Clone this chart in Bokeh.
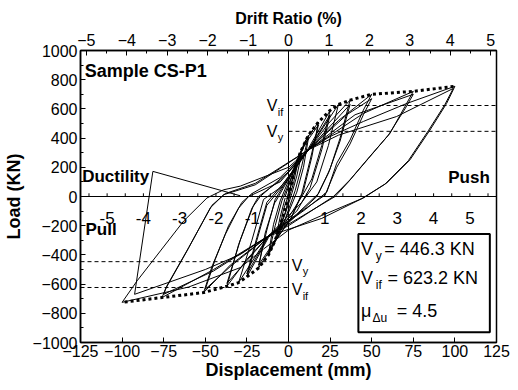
from bokeh.plotting import figure
from bokeh.models import (Range1d, LinearAxis, Span, Label, BoxAnnotation,
                          SingleIntervalTicker, ColumnDataSource)
from bokeh.embed import file_html
from bokeh.resources import INLINE
from bokeh.core.properties import value

FONT = "Liberation Sans"

# ---------------- data ----------------
V_y = 446.3          # KN
V_if = 623.2         # KN
mu_du = 4.5

inner_drift_labels = [-5, -4, -3, -2, -1, 1, 2, 3, 4, 5]
inner_drift_ticks = [-5.5, -5, -4.5, -4, -3.5, -3, -2.5, -2, -1.5, -1, -0.5,
                     0.5, 1, 1.5, 2, 2.5, 3, 3.5, 4, 4.5, 5, 5.5]

# envelope (dotted bold)
env_pos_d = [0, 3, 7, 12, 18, 25, 30, 37, 50, 75, 100]
env_pos_f = [0, 150, 300, 420, 510, 590, 630, 660, 700, 720, 755]
env_neg_d = [0, -5, -8, -12, -18, -25, -30, -37, -51, -76, -100]
env_neg_f = [0, -200, -300, -400, -490, -550, -590, -615, -658, -692, -725]

# hysteresis cycles (displacement mm, load KN)
c01_d = [0, 2, 5, 3, 0, -2, -5, -3, 0]
c01_f = [0, 110, 200, 90, -20, -110, -200, -90, 10]
c02_d = [0, 4, 8, 5, 2, -2, -8, -5, -2]
c02_f = [10, 180, 300, 140, 20, -120, -300, -140, -10]
c03_d = [-2, 3, 8, 12, 8, 4, 0, -4, -12, -8, -4]
c03_f = [0, 170, 320, 420, 210, 40, -90, -220, -400, -200, -30]
c04_d = [-4, 2, 7, 12, 9, 5, 0, -5, -12, -9, -5]
c04_f = [-30, 140, 300, 400, 200, 30, -110, -230, -390, -190, -30]
c05_d = [-5, 3, 10, 18, 14, 9, 2, -7, -18, -14, -8]
c05_f = [-30, 190, 380, 510, 270, 40, -140, -290, -490, -250, -30]
c06_d = [-8, 2, 10, 18, 13, 8, 1, -8, -18, -13, -8]
c06_f = [-40, 160, 360, 490, 250, 20, -160, -300, -470, -230, -20]
c07_d = [-8, 0, 12, 25, 20, 14, 8, -2, -12, -25, -19, -13]
c07_f = [-20, 130, 330, 590, 350, 120, 0, -180, -280, -550, -300, -60]
c08_d = [-13, 0, 12, 25, 20, 13, 5, -12, -25, -19, -13]
c08_f = [-60, 120, 320, 560, 320, 60, -100, -270, -530, -280, -40]
c09_d = [-13, -3, 12, 30, 24, 17, 8, -12, -30, -22, -15]
c09_f = [-40, 90, 320, 630, 350, 100, -40, -270, -590, -300, -20]
c10_d = [-15, -5, 12, 24, 37, 31, 25, 18, 5, -12, -25, -37, -30, -22, -17]
c10_f = [-20, 60, 320, 500, 660, 400, 190, 20, -120, -270, -430, -615, -330, -80, 0]
c11_d = [-17, 0, 12, 37, 31, 24, 17, 0, -12, -37, -29, -21, -18]
c11_f = [0, 170, 320, 630, 380, 160, 0, -180, -270, -595, -300, -60, 0]
c12_d = [-18, -5, 12, 30, 50, 45, 37, 29, 23, 10, -12, -35, -51, -46, -38, -30, -24]
c12_f = [0, 110, 320, 520, 700, 592, 387, 228, 30, -90, -270, -470, -658, -480, -260, -80, 0]
c13_d = [-24, -5, 12, 35, 50, 45, 37, 29, 22, 8, -12, -35, -50, -44, -36, -28, -22]
c13_f = [0, 100, 320, 560, 670, 560, 360, 200, 10, -100, -270, -480, -635, -430, -200, -40, 20]
c14_d = [-22, -5, 12, 45, 75, 70, 61, 49, 37, 27, 0, -12, -45, -76, -74, -61, -47, -39]
c14_f = [20, 130, 320, 569, 720, 617, 433, 276, 115, 0, -200, -270, -500, -692, -635, -373, -78, 12]
c15_d = [-39, -20, 12, 40, 75, 70, 60, 48, 36, 28, 0, -12, -45, -75, -73, -60, -46, -38]
c15_f = [12, 80, 320, 560, 700, 600, 420, 260, 100, 0, -190, -270, -510, -670, -610, -350, -60, 20]
c16_d = [-38, -20, 12, 25, 45, 71, 100, 95, 85, 73, 59, 45, 20, 0, -15, -29, -60, -100,
         -91, -77, -63, -49, -39, -29]
c16_f = [20, 90, 320, 411, 514, 637, 755, 637, 455, 251, 92, -10, -130, -230, -360, -487, -620, -725,
         -578, -373, -168, -10, 46, 71]
c17_d = [-29, 0, 12, 30, 65, 99, 94, 84, 72, 58, 44, 20, -12, -29, -50, -92.5, -81.5, -29]
c17_f = [71, 200, 320, 420, 548, 740, 630, 450, 245, 85, -15, -150, -270, -397, -500, -670, 172, 5]

cycles_d = [c01_d, c02_d, c03_d, c04_d, c05_d, c06_d, c07_d, c08_d, c09_d,
            c10_d, c11_d, c12_d, c13_d, c14_d, c15_d, c16_d, c17_d]
cycles_f = [c01_f, c02_f, c03_f, c04_f, c05_f, c06_f, c07_f, c08_f, c09_f,
            c10_f, c11_f, c12_f, c13_f, c14_f, c15_f, c16_f, c17_f]

# ---------------- figure ----------------
p = figure(width=510, height=382, x_range=Range1d(-125, 125), y_range=Range1d(-1000, 1000),
           output_backend="svg", toolbar_location=None,
           min_border_left=73, min_border_right=14, min_border_top=50, min_border_bottom=40)
p.extra_x_ranges = {"drift": Range1d(-125 / 24.3, 125 / 24.3),
                    "inner": Range1d(-125 / 21.8, 125 / 21.8)}
p.grid.visible = False
p.outline_line_color = "black"
p.outline_line_width = 1.5
p.background_fill_color = "white"
p.border_fill_color = "white"


def style_axis(ax, label_size="18px"):
    ax.axis_line_color = "black"
    ax.axis_line_width = 1.5
    ax.major_tick_in = 5
    ax.major_tick_out = 0
    ax.minor_tick_in = 3
    ax.minor_tick_out = 0
    ax.major_tick_line_color = "black"
    ax.minor_tick_line_color = "black"
    ax.major_label_text_font = FONT
    ax.major_label_text_font_size = "16px"
    ax.major_label_text_color = "black"
    ax.axis_label_text_font = FONT
    ax.axis_label_text_font_style = "bold"
    ax.axis_label_text_font_size = label_size
    ax.axis_label_text_color = "black"
    ax.major_label_standoff = 3
    ax.axis_label_standoff = 3


xb = p.xaxis[0]
xb.ticker = SingleIntervalTicker(interval=25, num_minor_ticks=0)
xb.axis_label = "Displacement (mm)"
style_axis(xb)
xb.major_label_standoff = 2
xb.axis_label_standoff = 0

yl = p.yaxis[0]
yl.ticker = SingleIntervalTicker(interval=200, num_minor_ticks=2)
yl.axis_label = "Load (KN)"
style_axis(yl)
yl.axis_label_standoff = 6

xt = LinearAxis(x_range_name="drift", ticker=SingleIntervalTicker(interval=1, num_minor_ticks=2),
                axis_label="Drift Ratio (%)")
style_axis(xt, "16px")
xt.major_label_standoff = 5
xt.axis_label_standoff = 4
p.add_layout(xt, "above")

# zero lines
p.add_layout(Span(location=0, dimension="width", line_color="black", line_width=1))
p.add_layout(Span(location=0, dimension="height", line_color="black", line_width=1))

# inner drift scale on the zero line
p.segment(x0=inner_drift_ticks, x1=inner_drift_ticks, y0=0, y1=22, x_range_name="inner",
          line_color="black", line_width=1)
src_in = ColumnDataSource(dict(x=inner_drift_labels, y=[-147] * len(inner_drift_labels),
                               t=[str(v) for v in inner_drift_labels]))
p.text(x="x", y="y", text="t", source=src_in, x_range_name="inner", text_font=value(FONT),
       text_font_size="17px", text_align="center", text_baseline="middle", text_color="black")

# dashed V lines
p.segment(x0=[0, 0, -125, -125], x1=[125, 125, 0, 0], y0=[V_y, V_if, -V_y, -V_if],
          y1=[V_y, V_if, -V_y, -V_if], line_color="black", line_width=1, line_dash="4 3")

# hysteresis loops
p.multi_line(xs=cycles_d, ys=cycles_f, line_color="black", line_width=1)

# envelope
p.line(env_pos_d, env_pos_f, line_color="black", line_width=3, line_dash="3 3")
p.line(env_neg_d, env_neg_f, line_color="black", line_width=3, line_dash="3 3")


def lab(text, x, y, size, bold=False, align="left", baseline="middle", yoff=0):
    p.add_layout(Label(x=x, y=y, text=text, text_font=FONT, text_font_size=size,
                       text_font_style="bold" if bold else "normal", text_align=align,
                       text_baseline=baseline, y_offset=yoff, text_color="black"))


lab("Sample CS-P1", -122.5, 862, "18px", True)
lab("Ductility", -124, 140, "17px", True)
lab("Push", 121, 131, "17px", True, align="right")
lab("Pull", -122, -228, "17px", True)

# V labels near dashed lines
lab("V", -13, V_if, "16px")
lab("if", -6.5, V_if, "11px", yoff=-6)
lab("V", -13, V_y, "16px")
lab("y", -6.5, V_y, "11px", yoff=-6)
lab("V", 2, -V_y - 25, "16px")
lab("y", 8.5, -V_y - 25, "11px", yoff=-6)
lab("V", 2, -V_if - 15, "16px")
lab("if", 8.5, -V_if - 15, "11px", yoff=-6)

# legend box
p.add_layout(BoxAnnotation(left=42, right=121, top=-256, bottom=-930, fill_color="white",
                           fill_alpha=1, line_color="black", line_width=2, line_alpha=1))
lab("V", 43.5, -358, "18px")
lab("y", 52.5, -358, "12px", yoff=-7)
lab("= %.1f KN" % V_y, 57.5, -358, "18px")
lab("V", 43.5, -556, "18px")
lab("if", 52.5, -556, "12px", yoff=-7)
lab("= %.1f KN" % V_if, 59.5, -556, "18px")
lab("\u03bc", 43.5, -781, "18px")
lab("\u0394u", 50.5, -781, "12px", yoff=-7)
lab("= %.1f" % mu_du, 65, -781, "18px")

open("out.html", "w").write(file_html(p, INLINE))
